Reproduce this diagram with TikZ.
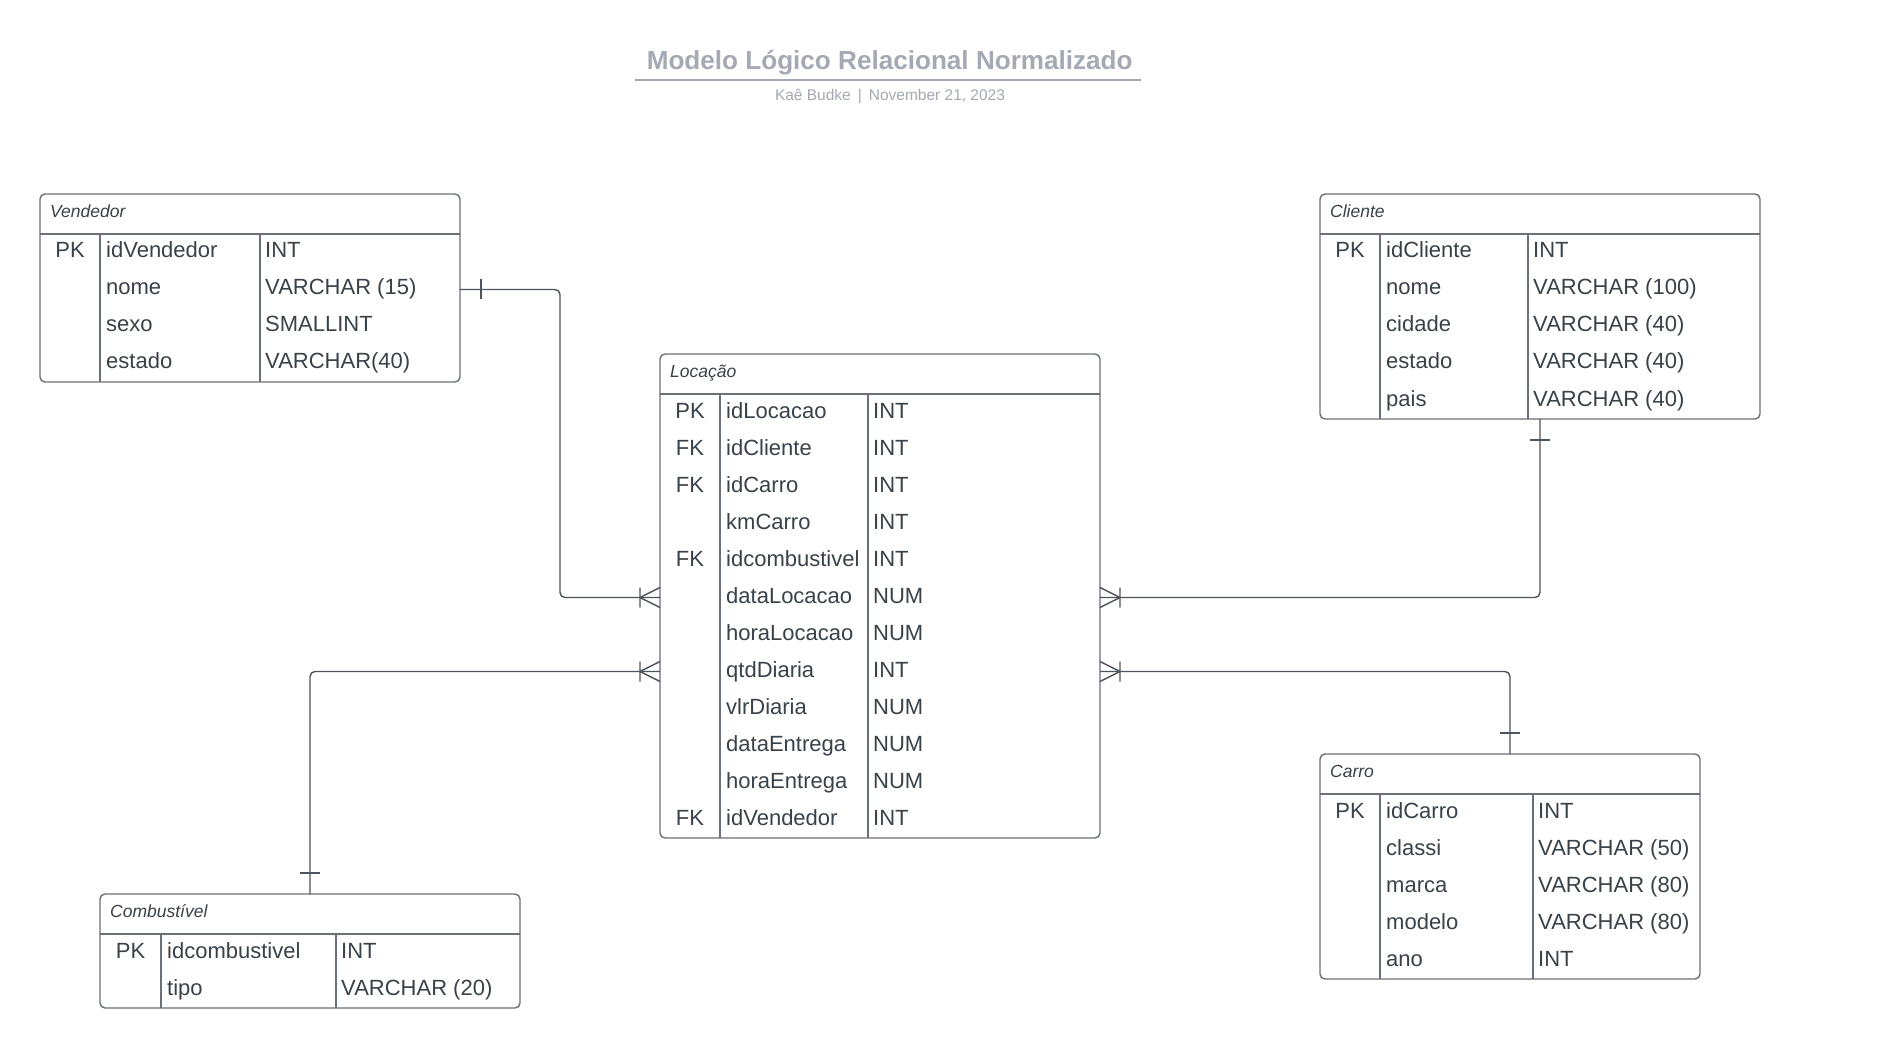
\documentclass[tikz,border=0pt]{standalone}
\usepackage{fontspec}
\setmainfont{Liberation Sans}
\usetikzlibrary{calc}
\definecolor{txt}{HTML}{394149}
\definecolor{bord}{HTML}{6A7078}
\definecolor{ttl}{HTML}{A4A9B3}
\definecolor{lnk}{HTML}{4E545C}
\tikzset{
  tbox/.style={draw=bord, line width=1.4pt, rounded corners=5pt, inner sep=0pt, outer sep=0pt, anchor=north west},
  tline/.style={draw=bord, line width=1.4pt},
  hdr/.style={font=\fontsize{17.5}{20}\selectfont\itshape, text=txt, anchor=base west, inner sep=0pt},
  keyt/.style={font=\fontsize{22}{26}\selectfont, text=txt, anchor=base, inner sep=0pt},
  fld/.style={font=\fontsize{22}{26}\selectfont, text=txt, anchor=base west, inner sep=0pt},
  conn/.style={draw=lnk, line width=1.4pt, rounded corners=5pt},
  endm/.style={draw=lnk, line width=1.4pt},
}
% #1 name #2 x #3 y #4 w #5 h #6 d1 #7 d2 #8 title #9 rows
\newcommand{\entity}[9]{%
  \node[tbox, minimum width=#4pt, minimum height=#5pt] (#1) at (#2,#3) {};
  \draw[tline] (#2,#3+40) -- (#2+#4,#3+40);
  \draw[tline] (#6,#3+40) -- (#6,#3+#5);
  \draw[tline] (#7,#3+40) -- (#7,#3+#5);
  \node[hdr] (#1-h) at (#2+10,#3+23.5) {#8};
  \foreach \k/\f/\t [count=\i] in {#9} {
    \coordinate (#1-r\i) at (#2,{#3+40+37*(\i-1)+18.5});
    \node[keyt] (#1-k\i) at ({(#2+#6)/2},{#3+40+37*(\i-1)+24}) {\k};
    \node[fld] (#1-f\i) at (#6+6,{#3+40+37*(\i-1)+24}) {\f};
    \node[fld] (#1-t\i) at (#7+5,{#3+40+37*(\i-1)+24}) {\t};
  }%
}
\newcommand{\tickh}[2]{\draw[endm] ([xshift=#2pt,yshift=-10pt]#1) -- ([xshift=#2pt,yshift=10pt]#1);}
\newcommand{\tickv}[2]{\draw[endm] ([yshift=#2pt,xshift=-10pt]#1) -- ([yshift=#2pt,xshift=10pt]#1);}
\newcommand{\manyend}[2]{\draw[endm] ([xshift=#2pt]#1) -- ([yshift=10pt]#1) ([xshift=#2pt]#1) -- ([yshift=-10pt]#1) ([xshift=#2pt,yshift=-10pt]#1) -- ([xshift=#2pt,yshift=10pt]#1);}
\begin{document}
\begin{tikzpicture}[x=1pt,y=-1pt]
\fill[white] (0,0) rectangle (1900,1048);
\useasboundingbox (0,0) rectangle (1900,1048);

\node[font=\fontsize{26.1}{30}\selectfont\bfseries, text=ttl, anchor=base, inner sep=0pt] (title) at (889.7,69.5) {Modelo Lógico Relacional Normalizado};
\draw[draw=ttl, line width=2pt] (635,80) -- (1141,80);
\node[font=\fontsize{15.5}{18}\selectfont, text=ttl, anchor=base, inner sep=0pt] (sub) at (890,100.2) {Kaê Budke\hspace{7pt}|\hspace{7pt}November 21, 2023};

\entity{vend}{40}{194}{420}{188}{100}{260}{Vendedor}{PK/idVendedor/INT, /nome/VARCHAR (15), /sexo/SMALLINT, /estado/VARCHAR(40)}
\entity{loc}{660}{354}{440}{484}{720}{868}{Locação}{PK/idLocacao/INT, FK/idCliente/INT, FK/idCarro/INT, /kmCarro/INT, FK/idcombustivel/INT, /dataLocacao/NUM, /horaLocacao/NUM, /qtdDiaria/INT, /vlrDiaria/NUM, /dataEntrega/NUM, /horaEntrega/NUM, FK/idVendedor/INT}
\entity{cli}{1320}{194}{440}{225}{1380}{1528}{Cliente}{PK/idCliente/INT, /nome/VARCHAR (100), /cidade/VARCHAR (40), /estado/VARCHAR (40), /pais/VARCHAR (40)}
\entity{car}{1320}{754}{380}{225}{1380}{1533}{Carro}{PK/idCarro/INT, /classi/VARCHAR (50), /marca/VARCHAR (80), /modelo/VARCHAR (80), /ano/INT}
\entity{comb}{100}{894}{420}{114}{161}{336}{Combustível}{PK/idcombustivel/INT, /tipo/VARCHAR (20)}

\coordinate (e1) at (vend.east |- vend-r2);
\coordinate (e2) at (loc.west |- loc-r6);
\coordinate (e3) at (loc.east |- loc-r6);
\coordinate (e4) at (loc.east |- loc-r8);
\coordinate (e5) at (loc.west |- loc-r8);

\draw[conn] (e1) -- ++(100,0) |- (e2);
\draw[conn] (cli.south) |- (e3);
\draw[conn] (car.north) |- (e4);
\draw[conn] (comb.north) |- (e5);

\tickh{e1}{21}
\tickv{cli.south}{-21}
\tickv{car.north}{21}
\tickv{comb.north}{21}
\manyend{e2}{-20}
\manyend{e3}{20}
\manyend{e4}{20}
\manyend{e5}{-20}
\end{tikzpicture}
\end{document}
